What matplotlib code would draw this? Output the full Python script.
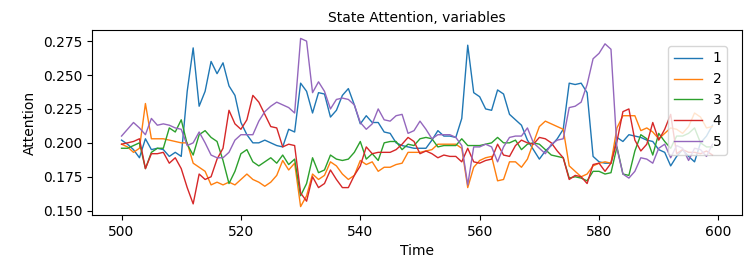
import matplotlib
matplotlib.use('Agg')
import matplotlib.pyplot as plt
import numpy as np

time = np.arange(500, 600)

s1 = [0.202, 0.199, 0.195, 0.189, 0.203, 0.195, 0.196, 0.195, 0.190, 0.193,
      0.190, 0.238, 0.270, 0.227, 0.238, 0.260, 0.251, 0.259, 0.242, 0.235,
      0.215, 0.206, 0.200, 0.200, 0.202, 0.200, 0.198, 0.197, 0.210, 0.208,
      0.244, 0.238, 0.222, 0.237, 0.236, 0.219, 0.224, 0.235, 0.240, 0.228,
      0.214, 0.220, 0.215, 0.215, 0.208, 0.207, 0.200, 0.198, 0.197, 0.196,
      0.196, 0.196, 0.202, 0.209, 0.205, 0.205, 0.204, 0.218, 0.272, 0.237,
      0.234, 0.225, 0.224, 0.239, 0.236, 0.221, 0.217, 0.213, 0.202, 0.195,
      0.188, 0.194, 0.198, 0.203, 0.210, 0.244, 0.243, 0.244, 0.237, 0.190,
      0.186, 0.185, 0.185, 0.204, 0.201, 0.206, 0.205, 0.204, 0.202, 0.201,
      0.195, 0.193, 0.183, 0.190, 0.195, 0.190, 0.186, 0.200, 0.205, 0.213]

s2 = [0.199, 0.197, 0.193, 0.196, 0.229, 0.203, 0.203, 0.203, 0.202, 0.201,
      0.200, 0.200, 0.185, 0.182, 0.179, 0.169, 0.171, 0.169, 0.171, 0.169,
      0.173, 0.177, 0.173, 0.171, 0.168, 0.171, 0.176, 0.187, 0.180, 0.185,
      0.153, 0.161, 0.177, 0.173, 0.176, 0.186, 0.183, 0.177, 0.173, 0.176,
      0.187, 0.184, 0.186, 0.179, 0.182, 0.182, 0.184, 0.185, 0.193, 0.193,
      0.193, 0.194, 0.195, 0.199, 0.199, 0.199, 0.199, 0.196, 0.167, 0.182,
      0.187, 0.189, 0.190, 0.172, 0.173, 0.186, 0.186, 0.182, 0.188, 0.200,
      0.212, 0.216, 0.214, 0.212, 0.210, 0.183, 0.179, 0.175, 0.177, 0.183,
      0.185, 0.186, 0.185, 0.211, 0.220, 0.220, 0.220, 0.209, 0.211, 0.208,
      0.203, 0.207, 0.211, 0.210, 0.207, 0.212, 0.222, 0.219, 0.211, 0.212]

s3 = [0.196, 0.196, 0.198, 0.200, 0.181, 0.193, 0.196, 0.196, 0.211, 0.208,
      0.217, 0.199, 0.191, 0.206, 0.209, 0.204, 0.201, 0.187, 0.170, 0.179,
      0.192, 0.195, 0.186, 0.183, 0.186, 0.189, 0.185, 0.191, 0.184, 0.188,
      0.161, 0.170, 0.189, 0.178, 0.180, 0.191, 0.188, 0.187, 0.188, 0.193,
      0.201, 0.188, 0.192, 0.187, 0.200, 0.201, 0.201, 0.195, 0.199, 0.198,
      0.203, 0.204, 0.203, 0.197, 0.198, 0.198, 0.198, 0.203, 0.198, 0.198,
      0.198, 0.199, 0.200, 0.204, 0.200, 0.200, 0.202, 0.195, 0.199, 0.200,
      0.199, 0.195, 0.191, 0.190, 0.189, 0.174, 0.175, 0.174, 0.172, 0.179,
      0.179, 0.177, 0.178, 0.197, 0.177, 0.176, 0.194, 0.206, 0.203, 0.191,
      0.207, 0.201, 0.196, 0.205, 0.205, 0.207, 0.211, 0.200, 0.197, 0.197]

s4 = [0.199, 0.200, 0.201, 0.203, 0.181, 0.192, 0.192, 0.193, 0.185, 0.189,
      0.181, 0.167, 0.155, 0.177, 0.173, 0.175, 0.188, 0.196, 0.224, 0.214,
      0.210, 0.217, 0.235, 0.230, 0.221, 0.212, 0.211, 0.197, 0.199, 0.198,
      0.163, 0.157, 0.175, 0.167, 0.170, 0.180, 0.173, 0.167, 0.167, 0.176,
      0.183, 0.197, 0.192, 0.193, 0.193, 0.193, 0.195, 0.199, 0.204, 0.201,
      0.192, 0.194, 0.192, 0.189, 0.191, 0.190, 0.190, 0.186, 0.196, 0.186,
      0.185, 0.187, 0.188, 0.199, 0.191, 0.190, 0.198, 0.202, 0.200, 0.199,
      0.204, 0.203, 0.200, 0.194, 0.189, 0.173, 0.176, 0.175, 0.170, 0.184,
      0.185, 0.179, 0.185, 0.201, 0.223, 0.225, 0.202, 0.194, 0.199, 0.215,
      0.202, 0.210, 0.221, 0.192, 0.195, 0.193, 0.193, 0.192, 0.194, 0.191]

s5 = [0.205, 0.210, 0.215, 0.211, 0.206, 0.218, 0.213, 0.214, 0.213, 0.211,
      0.210, 0.198, 0.200, 0.208, 0.200, 0.191, 0.189, 0.189, 0.193, 0.202,
      0.206, 0.206, 0.206, 0.216, 0.223, 0.227, 0.230, 0.228, 0.226, 0.222,
      0.277, 0.275, 0.237, 0.245, 0.238, 0.225, 0.232, 0.233, 0.232, 0.228,
      0.215, 0.210, 0.214, 0.225, 0.217, 0.216, 0.220, 0.221, 0.207, 0.209,
      0.216, 0.210, 0.203, 0.206, 0.206, 0.206, 0.204, 0.198, 0.169, 0.197,
      0.197, 0.199, 0.197, 0.186, 0.197, 0.204, 0.205, 0.205, 0.211, 0.200,
      0.196, 0.192, 0.199, 0.202, 0.203, 0.226, 0.227, 0.230, 0.243, 0.262,
      0.266, 0.273, 0.269, 0.196, 0.177, 0.174, 0.179, 0.189, 0.188, 0.185,
      0.196, 0.199, 0.189, 0.198, 0.196, 0.187, 0.196, 0.195, 0.190, 0.199]

series = [s1, s2, s3, s4, s5]
labels = ['1', '2', '3', '4', '5']

fig = plt.figure(figsize=(7.54, 2.7), dpi=100)
ax = fig.add_axes([92 / 754, 55 / 270, 650 / 754, 185 / 270])

for vals, lab in zip(series, labels):
    ax.plot(time, vals, linewidth=1, label=lab)

ax.set_title('State Attention, variables', fontsize=10)
ax.set_xlabel('Time')
ax.set_ylabel('Attention')
ax.set_yticks([0.150, 0.175, 0.200, 0.225, 0.250, 0.275])
# legend sits a bit inside the corner, like the reference
ax.legend(loc='upper right', bbox_to_anchor=(0.977, 0.914), borderaxespad=0)

fig.savefig('out.png', dpi=100)
